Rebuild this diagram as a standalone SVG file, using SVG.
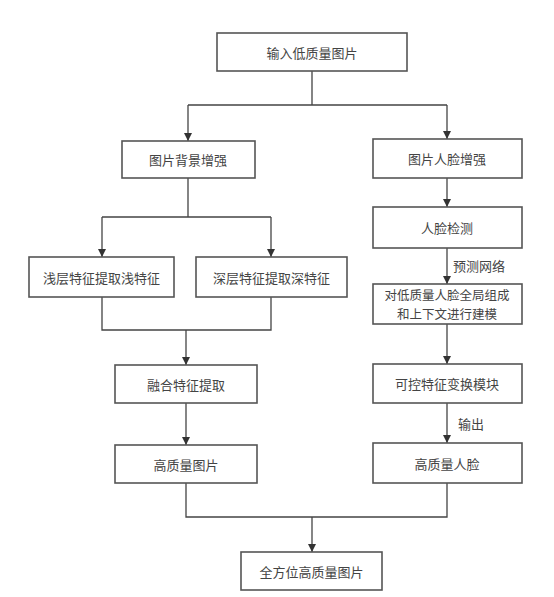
<svg xmlns="http://www.w3.org/2000/svg" width="554" height="597" viewBox="0 0 554 597">
<style>
.box{fill:#fff;stroke:#555;stroke-width:1.6}
.t{font-family:"Noto Sans CJK SC","Liberation Sans",sans-serif;font-size:13px;fill:#444;text-anchor:middle;dominant-baseline:central}
.s{font-size:12.5px}
.c{fill:none;stroke:#444;stroke-width:1.3}
</style>
<defs>
<marker id="a" viewBox="0 0 10 10" refX="10" refY="5" markerWidth="8" markerHeight="8" markerUnits="userSpaceOnUse" orient="auto">
<path d="M0,0 L10,5 L0,10 z" fill="#333"/>
</marker>
</defs>
<rect width="554" height="597" fill="#fff"/>
<g id="connectors">
<path class="c" d="M312,71 V105 M188,105 H447"/>
<path class="c" d="M188,105 V141" marker-end="url(#a)"/>
<path class="c" d="M447,105 V139" marker-end="url(#a)"/>
<path class="c" d="M188,178 V217 M102,217 H271"/>
<path class="c" d="M102,217 V257" marker-end="url(#a)"/>
<path class="c" d="M271,217 V257" marker-end="url(#a)"/>
<path class="c" d="M102,297 V330 H271 V297"/>
<path class="c" d="M186,330 V365" marker-end="url(#a)"/>
<path class="c" d="M186,403 V445" marker-end="url(#a)"/>
<path class="c" d="M447,178 V207" marker-end="url(#a)"/>
<path class="c" d="M447,248 V284" marker-end="url(#a)"/>
<path class="c" d="M447,324 V364" marker-end="url(#a)"/>
<path class="c" d="M447,403 V443" marker-end="url(#a)"/>
<path class="c" d="M186,483 V517 H447 V483"/>
<path class="c" d="M312,517 V552" marker-end="url(#a)"/>
<text class="t" x="479" y="265">预测网络</text>
<text class="t" x="471" y="423">输出</text>
</g>
<g id="n1"><rect class="box" x="217" y="33" width="190" height="38"/><text class="t" x="312" y="52">输入低质量图片</text></g>
<g id="n2"><rect class="box" x="122" y="141" width="133" height="37"/><text class="t" x="188" y="159.5">图片背景增强</text></g>
<g id="n3"><rect class="box" x="373" y="139" width="149" height="39"/><text class="t" x="447" y="158.5">图片人脸增强</text></g>
<g id="n4"><rect class="box" x="29" y="257" width="145" height="40"/><text class="t" x="101.5" y="277">浅层特征提取浅特征</text></g>
<g id="n5"><rect class="box" x="196" y="257" width="151" height="40"/><text class="t" x="271.5" y="277">深层特征提取深特征</text></g>
<g id="n6"><rect class="box" x="373" y="207" width="149" height="41"/><text class="t" x="447" y="227.5">人脸检测</text></g>
<g id="n7"><rect class="box" x="373" y="284" width="149" height="40"/><text class="t s" x="447" y="294.5">对低质量人脸全局组成</text><text class="t s" x="447" y="313.5">和上下文进行建模</text></g>
<g id="n8"><rect class="box" x="115" y="365" width="142" height="38"/><text class="t" x="186" y="384">融合特征提取</text></g>
<g id="n9"><rect class="box" x="373" y="364" width="149" height="39"/><text class="t" x="447" y="383.5">可控特征变换模块</text></g>
<g id="n10"><rect class="box" x="115" y="445" width="142" height="38"/><text class="t" x="186" y="464">高质量图片</text></g>
<g id="n11"><rect class="box" x="373" y="443" width="149" height="40"/><text class="t" x="447" y="463">高质量人脸</text></g>
<g id="n12"><rect class="box" x="241" y="552" width="141" height="38"/><text class="t" x="311.5" y="571">全方位高质量图片</text></g>
</svg>
